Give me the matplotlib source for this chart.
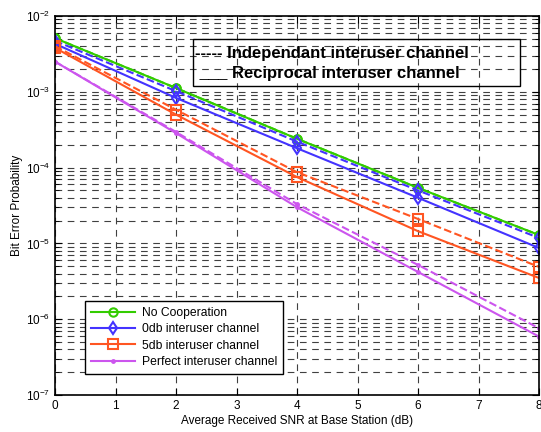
import numpy as np
import matplotlib
matplotlib.use("Agg")
import matplotlib.pyplot as plt
from matplotlib.patches import Rectangle

# SNR points (dB)
snr = [0, 2, 4, 6, 8]

# Bit error probability
no_coop_dep = [5.1e-3, 1.12e-3, 2.4e-4, 5.4e-5, 1.29e-5]
no_coop_rec = [5.1e-3, 1.12e-3, 2.4e-4, 5.4e-5, 1.29e-5]
db0_dep = [4.7e-3, 1.02e-3, 2.2e-4, 5.0e-5, 1.18e-5]
db0_rec = [4.3e-3, 8.3e-4, 1.8e-4, 4.0e-5, 8.7e-6]
db5_dep = [4.0e-3, 5.8e-4, 8.7e-5, 2.1e-5, 4.9e-6]
db5_rec = [3.8e-3, 5.0e-4, 7.5e-5, 1.45e-5, 3.5e-6]
perf_dep = [2.5e-3, 2.95e-4, 3.3e-5, 5.2e-6, 7.6e-7]
perf_rec = [2.5e-3, 2.85e-4, 3.0e-5, 4.2e-6, 5.9e-7]

labels = ['No Cooperation', '0db interuser channel', '5db interuser channel',
          'Perfect interuser channel']

plt.rcParams['font.family'] = ['Liberation Sans', 'DejaVu Sans']

fig = plt.figure(figsize=(5.41, 4.32), dpi=100)
ax = fig.add_axes([0.1017, 0.0856, 0.8946, 0.8774])

green = '#33cc00'
blue = '#4433ff'
orange = '#ff5522'
purple = '#cc55ee'

series = [
    (no_coop_rec, no_coop_dep, green, 'o', 6),
    (db0_rec, db0_dep, blue, 'd', 6),
    (db5_rec, db5_dep, orange, 's', 7),
    (perf_rec, perf_dep, purple, '.', 4),
]

handles = []
for (rec, dep, c, m, ms), lab in zip(series, labels):
    h, = ax.semilogy(snr, rec, '-', color=c, marker=m, markersize=ms,
                     markerfacecolor='none', markeredgewidth=1.5, lw=1.5, label=lab)
    ax.semilogy(snr, dep, '--', color=c, marker=m, markersize=ms,
                markerfacecolor='none', markeredgewidth=1.5, lw=1.5)
    handles.append(h)

ax.set_xlim(0, 8)
ax.set_ylim(1e-7, 1e-2)
ax.set_xticks(range(0, 9))
ax.tick_params(which='both', direction='in', top=True, right=True, labelsize=8.5)
ax.tick_params(which='major', length=5)
ax.tick_params(which='minor', length=3)

ax.grid(True, which='major', axis='both', color='#404040', ls=(0, (6, 5)), lw=0.8)
ax.grid(True, which='minor', axis='y', color='#404040', ls=(0, (6, 5)), lw=0.8)

ax.set_xlabel('Average Received SNR at Base Station (dB)', fontsize=8.5, labelpad=2)
ax.set_ylabel('Bit Error Probability', fontsize=8.5, labelpad=2)

leg = ax.legend(handles=handles, loc='lower left', bbox_to_anchor=(0.05, 0.04),
                fontsize=8.7, frameon=True, fancybox=False, edgecolor='black',
                framealpha=1, handlelength=3.6, borderpad=0.5, labelspacing=0.35,
                handletextpad=0.6)
leg.get_frame().set_linewidth(1.0)

# top-right line-style note box
ax.add_patch(Rectangle((0.285, 0.815), 0.675, 0.125, transform=ax.transAxes,
                       fill=False, edgecolor='black', lw=1.0, zorder=5))
ax.text(0.29, 0.9, '----- Independant interuser channel', transform=ax.transAxes,
        fontsize=12, fontweight='bold', va='center', ha='left', zorder=6)
ax.text(0.29, 0.848, ' ___ Reciprocal interuser channel', transform=ax.transAxes,
        fontsize=12, fontweight='bold', va='center', ha='left', zorder=6)

for s in ax.spines.values():
    s.set_linewidth(1.2)

fig.savefig('out.png', dpi=100)
